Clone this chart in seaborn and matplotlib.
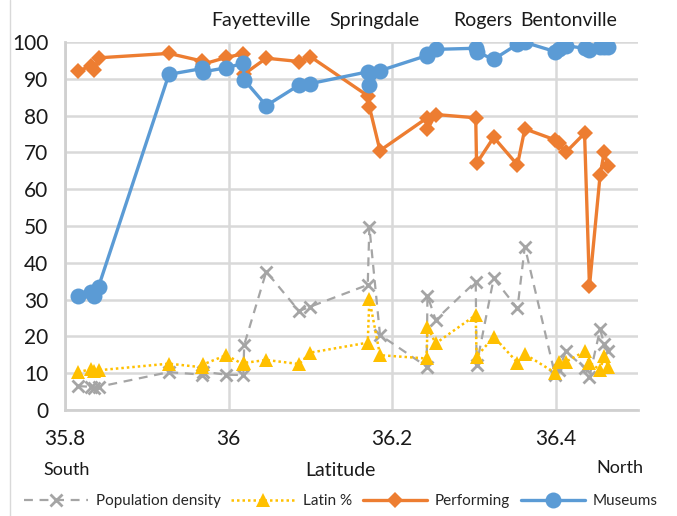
import numpy as np
import pandas as pd
import matplotlib.pyplot as plt
import seaborn as sns
from matplotlib.lines import Line2D

# ---------- data ----------
latitude = [35.816, 35.832, 35.836, 35.841, 35.927, 35.968, 35.969, 35.997,
            36.018, 36.019, 36.046, 36.086, 36.100, 36.170, 36.172, 36.185,
            36.242, 36.243, 36.253, 36.302, 36.303, 36.324, 36.353, 36.362,
            36.399, 36.404, 36.412, 36.435, 36.441, 36.454, 36.459, 36.464]
pop_density = [6.5, 6.3, 5.9, 6.3, 10.3, 9.6, 10.4, 9.6,
               9.5, 17.7, 37.6, 26.9, 28.1, 34.0, 49.8, 20.4,
               11.8, 31.1, 24.5, 34.9, 12.2, 35.8, 27.6, 44.4,
               9.5, 11.0, 15.9, 11.5, 9.1, 21.9, 18.0, 15.9]
latin_pct = [10.3, 11.1, 10.7, 10.8, 12.6, 11.6, 12.4, 14.9,
             12.4, 12.8, 13.6, 12.5, 15.6, 18.3, 30.1, 14.9,
             14.0, 22.6, 18.1, 25.8, 14.5, 19.9, 12.9, 15.2,
             10.1, 13.1, 13.1, 15.9, 12.9, 10.9, 14.7, 11.8]
performing = [92.2, 93.4, 92.4, 95.7, 96.9, 94.8, 94.0, 95.8,
              96.8, 91.3, 95.6, 94.7, 96.0, 85.4, 82.4, 70.5,
              79.3, 76.3, 80.3, 79.4, 67.0, 74.1, 66.6, 76.4,
              73.4, 72.5, 70.0, 75.2, 33.6, 63.8, 70.0, 66.2]
museums = [30.9, 32.2, 31.0, 33.5, 91.2, 92.8, 91.9, 93.0,
           94.2, 89.7, 82.7, 88.3, 88.7, 91.9, 88.3, 92.2,
           96.3, 96.8, 98.0, 98.3, 97.3, 95.3, 99.4, 99.9,
           97.4, 98.2, 99.0, 98.3, 97.7, 98.6, 98.7, 98.7]

series_names = ["Population density", "Latin %", "Performing", "Museums"]
city_names = ["Fayetteville", "Springdale", "Rogers", "Bentonville"]
city_x = [36.040, 36.178, 36.311, 36.416]
x_ticks = [35.8, 36.0, 36.2, 36.4]
x_tick_labels = ["35.8", "36", "36.2", "36.4"]
y_ticks = [0, 10, 20, 30, 40, 50, 60, 70, 80, 90, 100]

df = pd.DataFrame({"lat": latitude,
                   "Population density": pop_density,
                   "Latin %": latin_pct,
                   "Performing": performing,
                   "Museums": museums})

styles = {
    "Population density": dict(color="#A5A5A5", linestyle=(0, (4, 3)), marker="x",
                               markersize=9, markeredgewidth=2, linewidth=1.6),
    "Latin %": dict(color="#FFC000", linestyle=(0, (1, 1.2)), marker="^",
                    markersize=10, markeredgewidth=0, linewidth=1.8),
    "Performing": dict(color="#ED7D31", linestyle="-", marker="D",
                       markersize=8, markeredgewidth=0, linewidth=2.4),
    "Museums": dict(color="#5B9BD5", linestyle="-", marker="o",
                    markersize=11.5, markeredgewidth=0, linewidth=2.4),
}

sns.set_style("white")
plt.rcParams["font.family"] = ["Lato", "DejaVu Sans"]

fig = plt.figure(figsize=(6.77, 5.16), dpi=100)
ax = fig.add_axes([0.096, 0.2054, 0.846, 0.7132])

for name in series_names:
    st = styles[name]
    sns.lineplot(data=df, x="lat", y=name, ax=ax, sort=False, estimator=None,
                 color=st["color"], linestyle=st["linestyle"], linewidth=st["linewidth"],
                 marker=st["marker"], markersize=st["markersize"],
                 markeredgewidth=st["markeredgewidth"], markeredgecolor=st["color"],
                 label=name, legend=False, zorder=3)

ax.set_xlim(35.8, 36.5)
ax.set_ylim(0, 100)
ax.set_xticks(x_ticks)
ax.set_xticklabels(x_tick_labels)
ax.set_yticks(y_ticks)
ax.tick_params(axis="both", length=0, labelsize=15, colors="#1a1a1a")
ax.tick_params(axis="x", pad=14)
ax.tick_params(axis="y", pad=12)
ax.grid(True, color="#D9D9D9", linewidth=1.8)
ax.set_axisbelow(True)
for side in ["top", "right"]:
    ax.spines[side].set_visible(False)
for side in ["left", "bottom"]:
    ax.spines[side].set_color("#D0D0D0")
    ax.spines[side].set_linewidth(2)
ax.set_xlabel("")
ax.set_ylabel("")

# city names along the top
for name, cx in zip(city_names, city_x):
    ax.text(cx, 103.5, name, ha="center", va="bottom", fontsize=14, color="#1a1a1a")

# axis captions
fig.text(67 / 677, 1 - 470 / 516, "South", ha="center", va="center", fontsize=13, color="#1a1a1a")
fig.text(340 / 677, 1 - 471 / 516, "Latitude", ha="center", va="center", fontsize=14, color="#1a1a1a")
fig.text(620 / 677, 1 - 468 / 516, "North", ha="center", va="center", fontsize=13, color="#1a1a1a")

# legend below the plot
handles = []
for name in series_names:
    st = styles[name]
    handles.append(Line2D([], [], color=st["color"], linestyle=st["linestyle"],
                          linewidth=st["linewidth"], marker=st["marker"],
                          markersize=st["markersize"], markeredgewidth=st["markeredgewidth"],
                          markeredgecolor=st["color"]))
fig.legend(handles, series_names, loc="center left", bbox_to_anchor=(0.015, 1 - 501 / 516),
           ncol=4, frameon=False, fontsize=11, handlelength=4.2, columnspacing=0.7,
           handletextpad=0.5)

# chart border on the left
fig.add_artist(Line2D([10 / 677, 10 / 677], [0, 1], color="#D9D9D9", linewidth=1))

fig.savefig("out.png", dpi=100)
